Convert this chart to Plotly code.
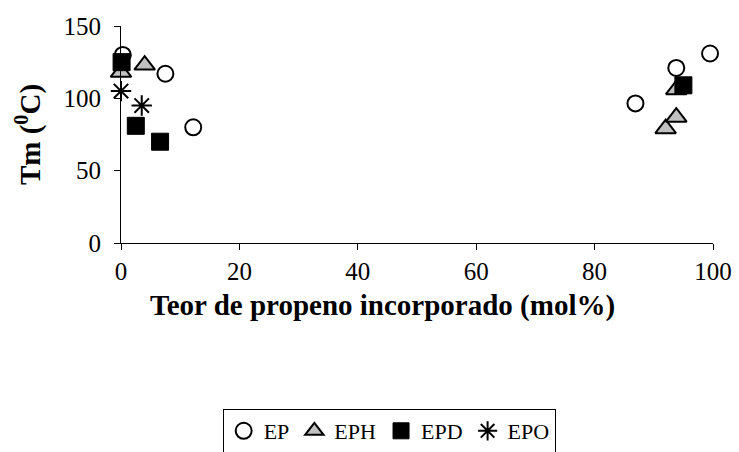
import plotly.graph_objects as go

# Data
ep_x = [0.3, 7.5, 12.2, 86.9, 93.8, 99.5]
ep_y = [130, 117, 80, 96.5, 121, 131]
eph_x = [0.0, 4.0, 92.0, 93.8, 93.8]
eph_y = [118, 123, 79, 87, 106]
epd_x = [0.1, 2.5, 6.6, 95.0]
epd_y = [125, 81, 70, 109]
epo_x = [0.0, 3.5]
epo_y = [105, 95]

FONT = "Liberation Serif, Times New Roman, serif"

fig = go.Figure()
fig.add_trace(go.Scatter(x=ep_x, y=ep_y, mode="markers", name="EP",
                         marker=dict(symbol="circle", size=16, color="white",
                                     line=dict(color="black", width=2)),
                         cliponaxis=False))
fig.add_trace(go.Scatter(x=eph_x, y=eph_y, mode="markers", name="EPH",
                         marker=dict(symbol="triangle-up", size=18, color="#c0c0c0",
                                     line=dict(color="black", width=2)),
                         cliponaxis=False))
fig.add_trace(go.Scatter(x=epd_x, y=epd_y, mode="markers", name="EPD",
                         marker=dict(symbol="square", size=17, color="black",
                                     line=dict(color="black", width=1)),
                         cliponaxis=False))
fig.add_trace(go.Scatter(x=epo_x, y=epo_y, mode="markers", name="EPO",
                         marker=dict(symbol="asterisk-open", size=17, color="black",
                                     line=dict(color="black", width=2)),
                         cliponaxis=False))

fig.update_layout(
    width=739, height=452,
    margin=dict(l=121, r=26, t=26, b=209, autoexpand=False),
    paper_bgcolor="white", plot_bgcolor="white",
    font=dict(family=FONT, size=24, color="black"),
    xaxis=dict(range=[0, 100], tickvals=[0, 20, 40, 60, 80, 100],
               showline=True, linecolor="black", linewidth=1,
               ticks="outside", ticklen=6, tickcolor="black",
               tickfont=dict(family=FONT, size=25, color="black"),
               showgrid=False, zeroline=False),
    yaxis=dict(range=[0, 150], tickvals=[0, 50, 100, 150],
               showline=True, linecolor="black", linewidth=1,
               ticks="outside", ticklen=6, tickcolor="black",
               ticklabelstandoff=8,
               tickfont=dict(family=FONT, size=25, color="black"),
               showgrid=False, zeroline=False,
               title=dict(text="<b>Tm (<sup>0</sup>C)</b>",
                          font=dict(family=FONT, size=29, color="black"),
                          standoff=14)),
    annotations=[dict(text="<b>Teor de propeno incorporado (mol%)</b>",
                      xref="paper", yref="paper", x=0.441, y=-0.286,
                      xanchor="center", yanchor="middle", showarrow=False,
                      font=dict(family=FONT, size=29, color="black"))],
    showlegend=True,
    legend=dict(orientation="h", x=0.453, xanchor="center",
                yref="container", y=1 - 409 / 452, yanchor="top",
                bordercolor="black", borderwidth=1,
                font=dict(family=FONT, size=22, color="black"),
                itemwidth=30, tracegroupgap=0),
)

fig.write_html("out.html")
